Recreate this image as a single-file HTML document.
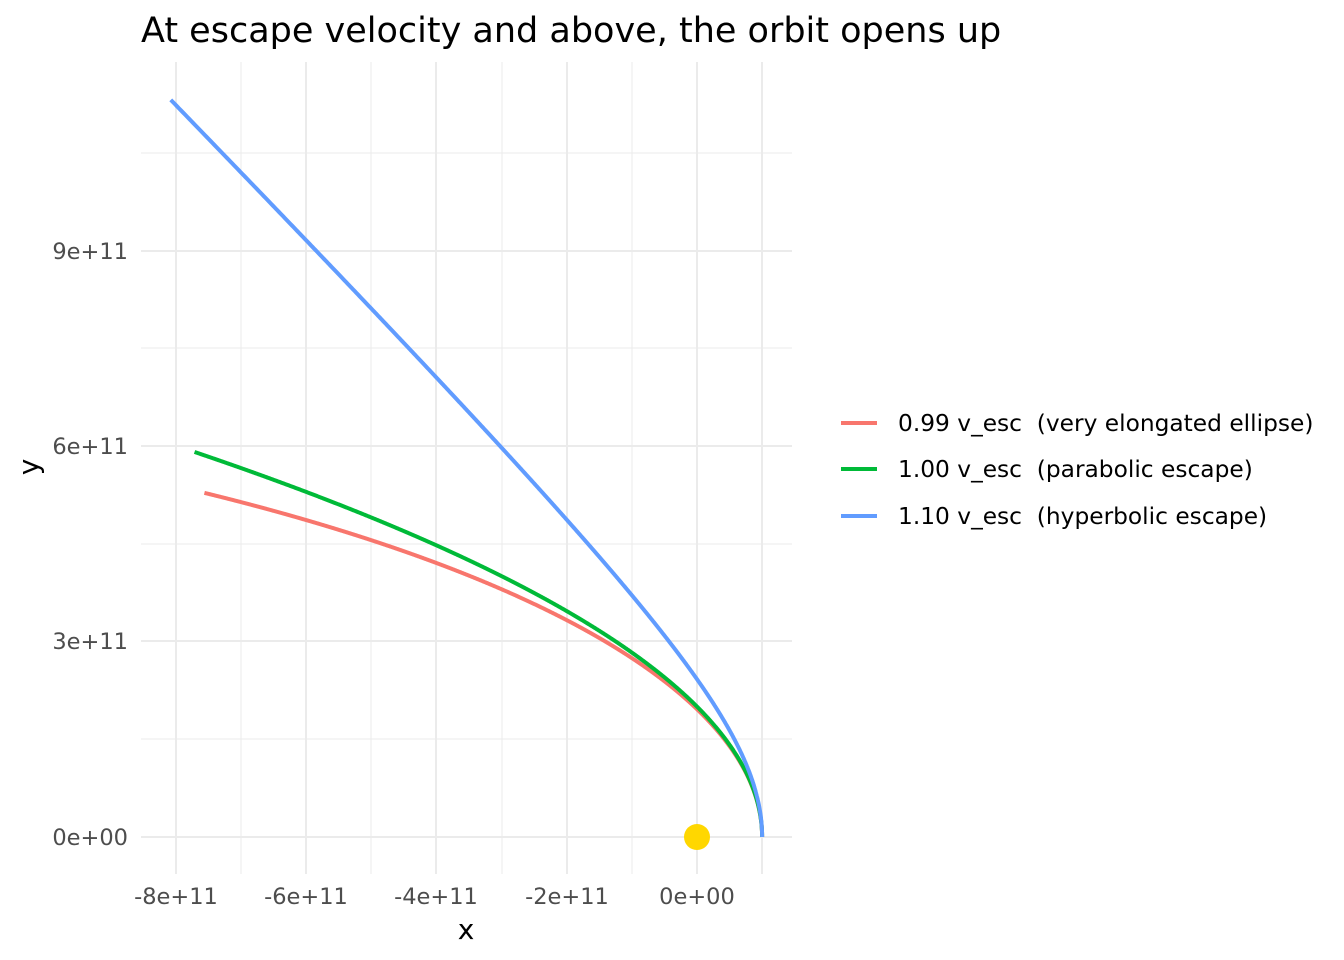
<!DOCTYPE html>
<html><head><meta charset="utf-8"><style>
body{margin:0;background:#fff;}
svg{display:block;font-family:"DejaVu Sans","Liberation Sans",sans-serif;}
</style></head><body>
<svg id="s" width="1344" height="960" viewBox="0 0 1344 960">
<rect width="1344" height="960" fill="#fff"/>
<g stroke="#ebebeb" stroke-width="1">
<line x1="241" y1="62" x2="241" y2="874"/><line x1="371" y1="62" x2="371" y2="874"/>
<line x1="502" y1="62" x2="502" y2="874"/><line x1="632" y1="62" x2="632" y2="874"/>
<line x1="141" y1="739" x2="792" y2="739"/><line x1="141" y1="544" x2="792" y2="544"/>
<line x1="141" y1="348" x2="792" y2="348"/><line x1="141" y1="153" x2="792" y2="153"/>
</g>
<g stroke="#ebebeb" stroke-width="2">
<line x1="176" y1="62" x2="176" y2="874"/><line x1="306" y1="62" x2="306" y2="874"/>
<line x1="436" y1="62" x2="436" y2="874"/><line x1="567" y1="62" x2="567" y2="874"/>
<line x1="697" y1="62" x2="697" y2="874"/><line x1="762" y1="62" x2="762" y2="874"/>
<line x1="141" y1="837" x2="792" y2="837"/><line x1="141" y1="641" x2="792" y2="641"/>
<line x1="141" y1="446" x2="792" y2="446"/><line x1="141" y1="251" x2="792" y2="251"/>
</g>
<path id="red" fill="none" stroke="#F8766D" stroke-width="4"/>
<path id="green" fill="none" stroke="#00BA38" stroke-width="4"/>
<path id="blue" fill="none" stroke="#619CFF" stroke-width="4"/>
<circle cx="697" cy="837" r="13" fill="#FFD700"/>
<g font-size="22.5" fill="#4d4d4d" text-anchor="end">
<text x="128" y="845">0e+00</text><text x="128" y="649">3e+11</text>
<text x="128" y="454">6e+11</text><text x="128" y="259">9e+11</text>
</g>
<g font-size="22.5" fill="#4d4d4d" text-anchor="middle">
<text x="176" y="904">-8e+11</text><text x="306" y="904">-6e+11</text>
<text x="436" y="904">-4e+11</text><text x="567" y="904">-2e+11</text>
<text x="697" y="904">0e+00</text>
</g>
<text x="466" y="939" font-size="28" text-anchor="middle">x</text>
<text transform="translate(38,467) rotate(-90)" font-size="28" text-anchor="middle">y</text>
<text x="141" y="42" font-size="35">At escape velocity and above, the orbit opens up</text>
<line x1="841" y1="423" x2="877" y2="423" stroke="#F8766D" stroke-width="4"/>
<line x1="841" y1="469" x2="877" y2="469" stroke="#00BA38" stroke-width="4"/>
<line x1="841" y1="516" x2="877" y2="516" stroke="#619CFF" stroke-width="4"/>
<g font-size="23.3" fill="#000">
<text x="898" y="431" xml:space="preserve">0.99 v_esc  (very elongated ellipse)</text>
<text x="898" y="477" xml:space="preserve">1.00 v_esc  (parabolic escape)</text>
<text x="898" y="524" xml:space="preserve">1.10 v_esc  (hyperbolic escape)</text>
</g>
</svg>
<script>
function conic(id,e,xend){
  var p=1+e,d="",th=0,sx=65.1,sy=65.2;
  for(var i=0;i<20000;i++){
    var r=p/(1+e*Math.cos(th)),x=r*Math.cos(th),y=r*Math.sin(th);
    if(x<xend||r<0)break;
    d+=(i?"L":"M")+(697+x*sx).toFixed(2)+","+(837-y*sy).toFixed(2);
    th+=0.0005;
  }
  document.getElementById(id).setAttribute("d",d);
}
conic("red",0.9602,-7.57);
conic("green",1.0,-7.72);
conic("blue",1.42,-8.11);
</script>
</body></html>
